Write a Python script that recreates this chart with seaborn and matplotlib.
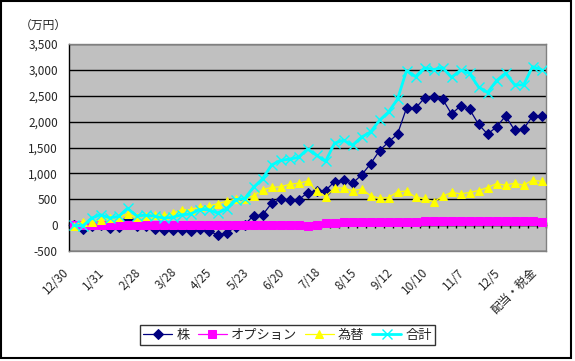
import numpy as np
import pandas as pd
import matplotlib
matplotlib.use("Agg")
import matplotlib.pyplot as plt
import matplotlib.transforms as mtransforms
from matplotlib.patches import Rectangle
import seaborn as sns

# 53 weekly points, label every 4th
tick_labels = ["12/30", "1/31", "2/28", "3/28", "4/25", "5/23", "6/20",
               "7/18", "8/15", "9/12", "10/10", "11/7", "12/5", "配当・税金"]

kabu = [0, -70, -10, -5, -55, -45, 110, -10, -20, -70,
        -100, -100, -85, -110, -72, -110, -190, -155, -35, 10,
        180, 195, 420, 500, 490, 490, 625, 665, 668, 840,
        868, 810, 968, 1183, 1440, 1605, 1760, 2260, 2260, 2455,
        2469, 2437, 2148, 2302, 2240, 1950, 1760, 1895, 2109, 1839,
        1855, 2109, 2109]

option = [0, 0, 0, 0, 0, 0, 0, 0, 0, 0,
          0, 0, 0, 0, 0, 0, 0, 0, 0, 0,
          0, 0, 0, 10, 10, 10, -15, 10, 35, 38,
          52, 52, 52, 52, 52, 52, 52, 52, 65, 72,
          72, 72, 72, 72, 72, 72, 72, 72, 72, 72,
          72, 72, 55]

kawase = [-20, 70, 60, 100, 135, 160, 215, 155, 180, 195,
          190, 225, 296, 296, 350, 365, 415, 462, 504, 505,
          572, 680, 730, 740, 790, 810, 850, 660, 553, 717,
          717, 665, 697, 572, 518, 533, 643, 659, 537, 515,
          450, 556, 633, 604, 630, 669, 726, 803, 771, 810,
          771, 868, 845]

goukei = [0, -20, 135, 200, 140, 167, 325, 180, 190, 175,
          135, 150, 200, 215, 300, 300, 235, 310, 495, 510,
          730, 895, 1160, 1250, 1275, 1310, 1470, 1350, 1230, 1582,
          1640, 1545, 1700, 1800, 2025, 2186, 2434, 2984, 2870, 3040,
          3005, 3045, 2855, 2996, 2930, 2670, 2562, 2791, 2938, 2715,
          2705, 3061, 3005]

sns.set_style("white")
plt.rcParams['font.family'] = ['Noto Sans CJK JP', 'DejaVu Sans']

df = pd.DataFrame({"idx": np.arange(len(kabu)), "株": kabu,
                   "オプション": option, "為替": kawase, "合計": goukei})

fig = plt.figure(figsize=(5.75, 3.61), dpi=100)
ax = fig.add_axes([69 / 575, 1 - 251 / 361, 477 / 575, 207 / 361])
ax.set_facecolor("#C0C0C0")

for y in range(-500, 3501, 500):
    ax.axhline(y, color="black", lw=1.0, zorder=1)

sns.lineplot(data=df, x="idx", y="株", ax=ax, color="#000080", lw=0.9,
             marker="D", markersize=5, markeredgecolor="#000080", label="株", zorder=3)
sns.lineplot(data=df, x="idx", y="オプション", ax=ax, color="#FF00FF", lw=0.9,
             marker="s", markersize=5.5, markeredgecolor="#FF00FF", label="オプション", zorder=4)
sns.lineplot(data=df, x="idx", y="為替", ax=ax, color="#FFFF00", lw=0.9,
             marker="^", markersize=6, markeredgecolor="#FFFF00", label="為替", zorder=5)
sns.lineplot(data=df, x="idx", y="合計", ax=ax, color="#00FFFF", lw=2.0,
             marker="x", markersize=6.5, markeredgewidth=1.0, markeredgecolor="#00FFFF",
             label="合計", zorder=6)

ax.set_xlim(-0.5, len(kabu) - 0.5)
ax.set_ylim(-500, 3500)
ax.set_xlabel("")
ax.set_ylabel("")

ax.set_yticks(range(-500, 3501, 500))
ax.set_yticklabels([f"{v:,}" for v in range(-500, 3501, 500)], fontsize=8.5)
ax.tick_params(axis="y", direction="out", length=3, width=1, color="black", pad=5)

pos = list(range(0, len(kabu), 4))
ax.set_xticks(pos)
ax.set_xticklabels(tick_labels, fontsize=8.5, rotation=45, ha="right",
                   va="center", rotation_mode="anchor")
ax.tick_params(axis="x", length=0, pad=14)
off = mtransforms.ScaledTranslation(-5 / 72, 0, fig.dpi_scale_trans)
for lab in ax.get_xticklabels():
    lab.set_transform(lab.get_transform() + off)

for s in ["top", "right", "bottom"]:
    ax.spines[s].set_color("#808080")
    ax.spines[s].set_linewidth(1)
ax.spines["left"].set_color("black")
ax.spines["left"].set_linewidth(1)

# category axis crossing at zero with tick marks
sec = ax.secondary_xaxis(500 / 4000)
sec.set_xticks(np.arange(-0.5, len(kabu), 1))
sec.set_xticklabels([])
sec.tick_params(direction="inout", length=4, width=1, color="black")
sec.spines["bottom"].set_color("black")
sec.spines["bottom"].set_linewidth(1)

fig.text(20 / 575, 1 - 25 / 361, "（万円）", fontsize=8.5, va="center", ha="left")

ax.legend_.remove()
h, l = ax.get_legend_handles_labels()
leg = fig.legend(h, l, loc="center", bbox_to_anchor=(0.5, 1 - 335 / 361), ncol=4,
                 fontsize=9.5, frameon=True, fancybox=False, edgecolor="black",
                 handlelength=2.2, handletextpad=0.3, columnspacing=0.6,
                 borderpad=0.25, borderaxespad=0)
leg.get_frame().set_linewidth(1)

fig.patches.append(Rectangle((1 / 575, 3 / 361), 570 / 575, 357 / 361,
                             transform=fig.transFigure, fill=False,
                             edgecolor="black", lw=1.5))

fig.savefig("out.png", dpi=100)
